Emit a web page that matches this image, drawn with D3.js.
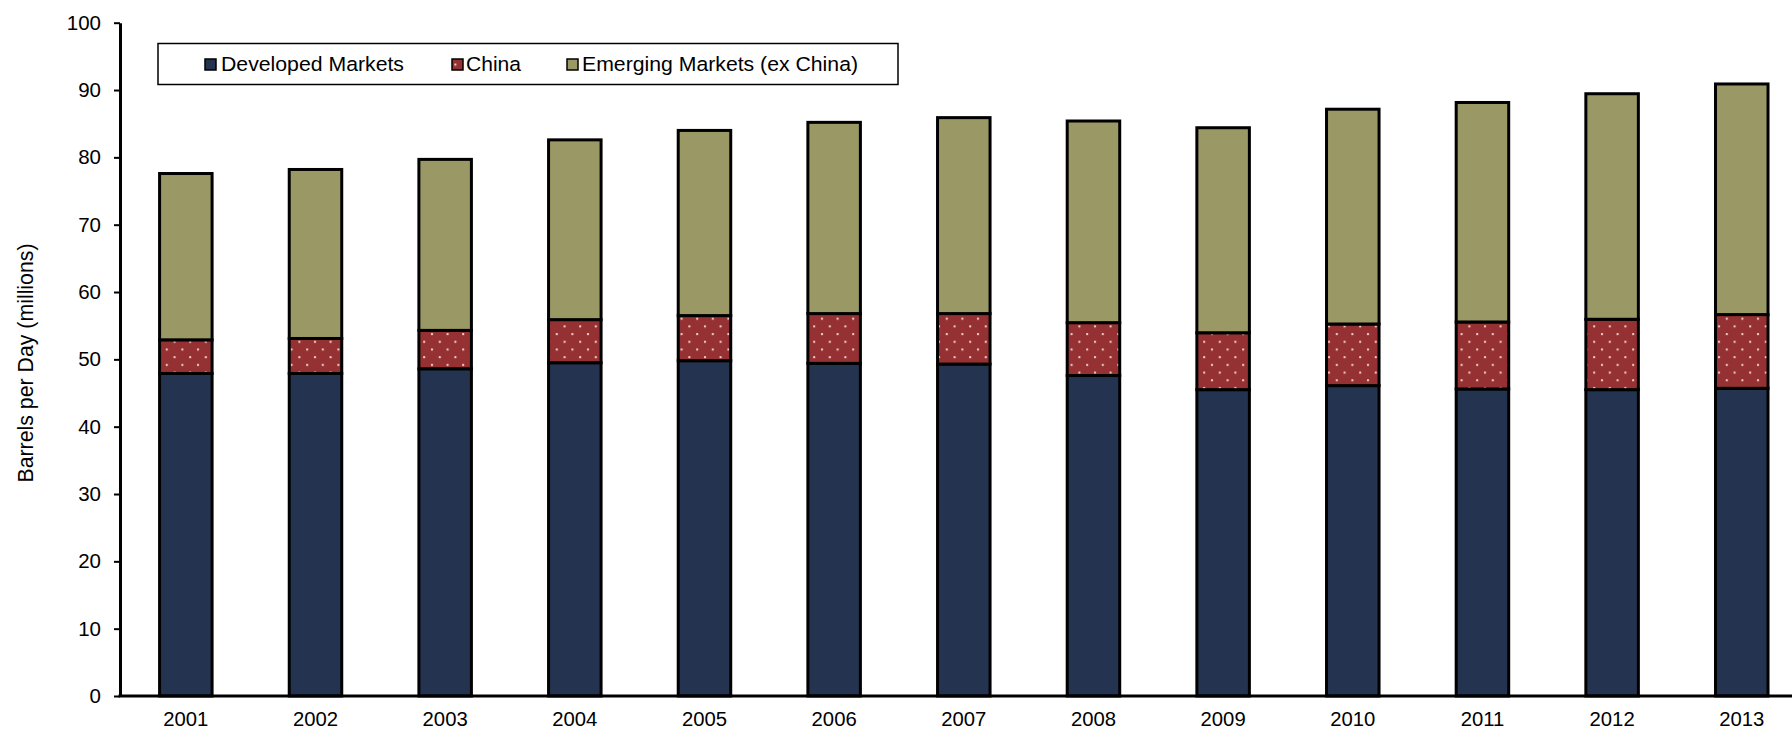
<!DOCTYPE html>
<html>
<head>
<meta charset="utf-8">
<script src="https://cdn.jsdelivr.net/npm/d3@7"></script>
<style>
  html, body { margin: 0; padding: 0; background: #fff; }
  svg { display: block; font-family: "Liberation Sans", Arial, Helvetica, sans-serif; }
</style>
</head>
<body>
<svg id="chart" width="1792" height="730"></svg>
<script>
// Oil demand by region, millions of barrels per day
const years = ["2001","2002","2003","2004","2005","2006","2007","2008","2009","2010","2011","2012","2013"];
const developed = [47.9, 47.9, 48.6, 49.5, 49.8, 49.4, 49.3, 47.6, 45.5, 46.1, 45.6, 45.5, 45.7];
const china     = [5.0, 5.2, 5.7, 6.4, 6.7, 7.4, 7.5, 7.85, 8.45, 9.15, 9.95, 10.45, 10.95];
const emerging  = [24.7, 25.1, 25.4, 26.7, 27.5, 28.4, 29.1, 29.95, 30.45, 31.9, 32.6, 33.5, 34.25];
const seriesNames = ["Developed Markets", "China", "Emerging Markets (ex China)"];
const yTicks = [0, 10, 20, 30, 40, 50, 60, 70, 80, 90, 100];

const colors = { dm: "#233350", cn: "#963133", em: "#9a9864" };

const svg = d3.select("#chart");

// dotted fill for the China segment
const defs = svg.append("defs");
const pat = defs.append("pattern")
  .attr("id", "dots")
  .attr("patternUnits", "userSpaceOnUse")
  .attr("width", 15.6).attr("height", 15.4);
pat.append("rect").attr("width", 15.6).attr("height", 15.4).attr("fill", colors.cn);
pat.append("rect").attr("x", 2).attr("y", 2).attr("width", 2).attr("height", 2).attr("fill", "#ecd2d2");
pat.append("rect").attr("x", 9.8).attr("y", 9.7).attr("width", 2).attr("height", 2).attr("fill", "#ecd2d2");

const x = d3.scaleBand()
  .domain(years)
  .range([121, 1806.6])
  .paddingInner(0.595)
  .paddingOuter(0.2975);

const y = d3.scaleLinear().domain([0, 100]).range([696, 22.7]);

// stacked data
const rows = years.map((yr, i) => ({ year: yr, dm: developed[i], cn: china[i], em: emerging[i] }));
const stack = d3.stack().keys(["dm", "cn", "em"])(rows);
const fills = { dm: colors.dm, cn: "url(#dots)", em: colors.em };

svg.append("g").selectAll("g")
  .data(stack)
  .join("g")
  .attr("fill", d => fills[d.key])
  .selectAll("rect")
  .data(d => d)
  .join("rect")
  .attr("x", d => x(d.data.year))
  .attr("width", x.bandwidth())
  .attr("y", d => y(d[1]))
  .attr("height", d => y(d[0]) - y(d[1]))
  .attr("stroke", "#000")
  .attr("stroke-width", 3);

// y axis
const yAxis = svg.append("g")
  .attr("transform", "translate(120,0)")
  .call(d3.axisLeft(y).tickValues(yTicks).tickSize(6).tickPadding(13).tickSizeOuter(0));
yAxis.select(".domain").attr("stroke", "#000").attr("stroke-width", 3);
yAxis.selectAll(".tick line").attr("stroke", "#000").attr("stroke-width", 2);
yAxis.selectAll(".tick text").attr("font-size", 20.5).attr("fill", "#000")
  .style("font-family", "'Liberation Sans', Arial, sans-serif");

// x axis
const xAxis = svg.append("g")
  .attr("transform", "translate(0,696)")
  .call(d3.axisBottom(x).tickSize(0).tickSizeOuter(0));
xAxis.select(".domain").remove();
svg.append("line")
  .attr("x1", 118.5).attr("x2", 1792)
  .attr("y1", 696).attr("y2", 696)
  .attr("stroke", "#000").attr("stroke-width", 3);
xAxis.selectAll(".tick text")
  .attr("y", 29.5).attr("dy", null)
  .attr("font-size", 20.3).attr("fill", "#000")
  .style("font-family", "'Liberation Sans', Arial, sans-serif");

// y axis title
svg.append("text")
  .attr("transform", "translate(26,363) rotate(-90)")
  .attr("text-anchor", "middle")
  .attr("dominant-baseline", "central")
  .attr("font-size", 21.3)
  .attr("fill", "#000")
  .text("Barrels per Day (millions)");

// legend
const legend = svg.append("g");
legend.append("rect")
  .attr("x", 158).attr("y", 43.5)
  .attr("width", 740).attr("height", 41)
  .attr("fill", "#fff").attr("stroke", "#000").attr("stroke-width", 1.5);

const legendItems = [
  { name: seriesNames[0], fill: colors.dm, sx: 205, tx: 221, tw: 183 },
  { name: seriesNames[1], fill: "url(#dots)", sx: 452, tx: 466, tw: 55 },
  { name: seriesNames[2], fill: colors.em, sx: 567, tx: 582, tw: 276 }
];
const li = legend.selectAll("g.item").data(legendItems).join("g").attr("class", "item");
li.append("rect")
  .attr("x", d => d.sx).attr("y", 59)
  .attr("width", 11).attr("height", 11)
  .attr("fill", d => d.fill)
  .attr("stroke", "#000").attr("stroke-width", 1.5);
li.append("text")
  .attr("x", d => d.tx).attr("y", 71)
  .attr("font-size", 20.5)
  .attr("fill", "#000")
  .attr("textLength", d => d.tw)
  .attr("lengthAdjust", "spacingAndGlyphs")
  .text(d => d.name);
</script>
</body>
</html>
